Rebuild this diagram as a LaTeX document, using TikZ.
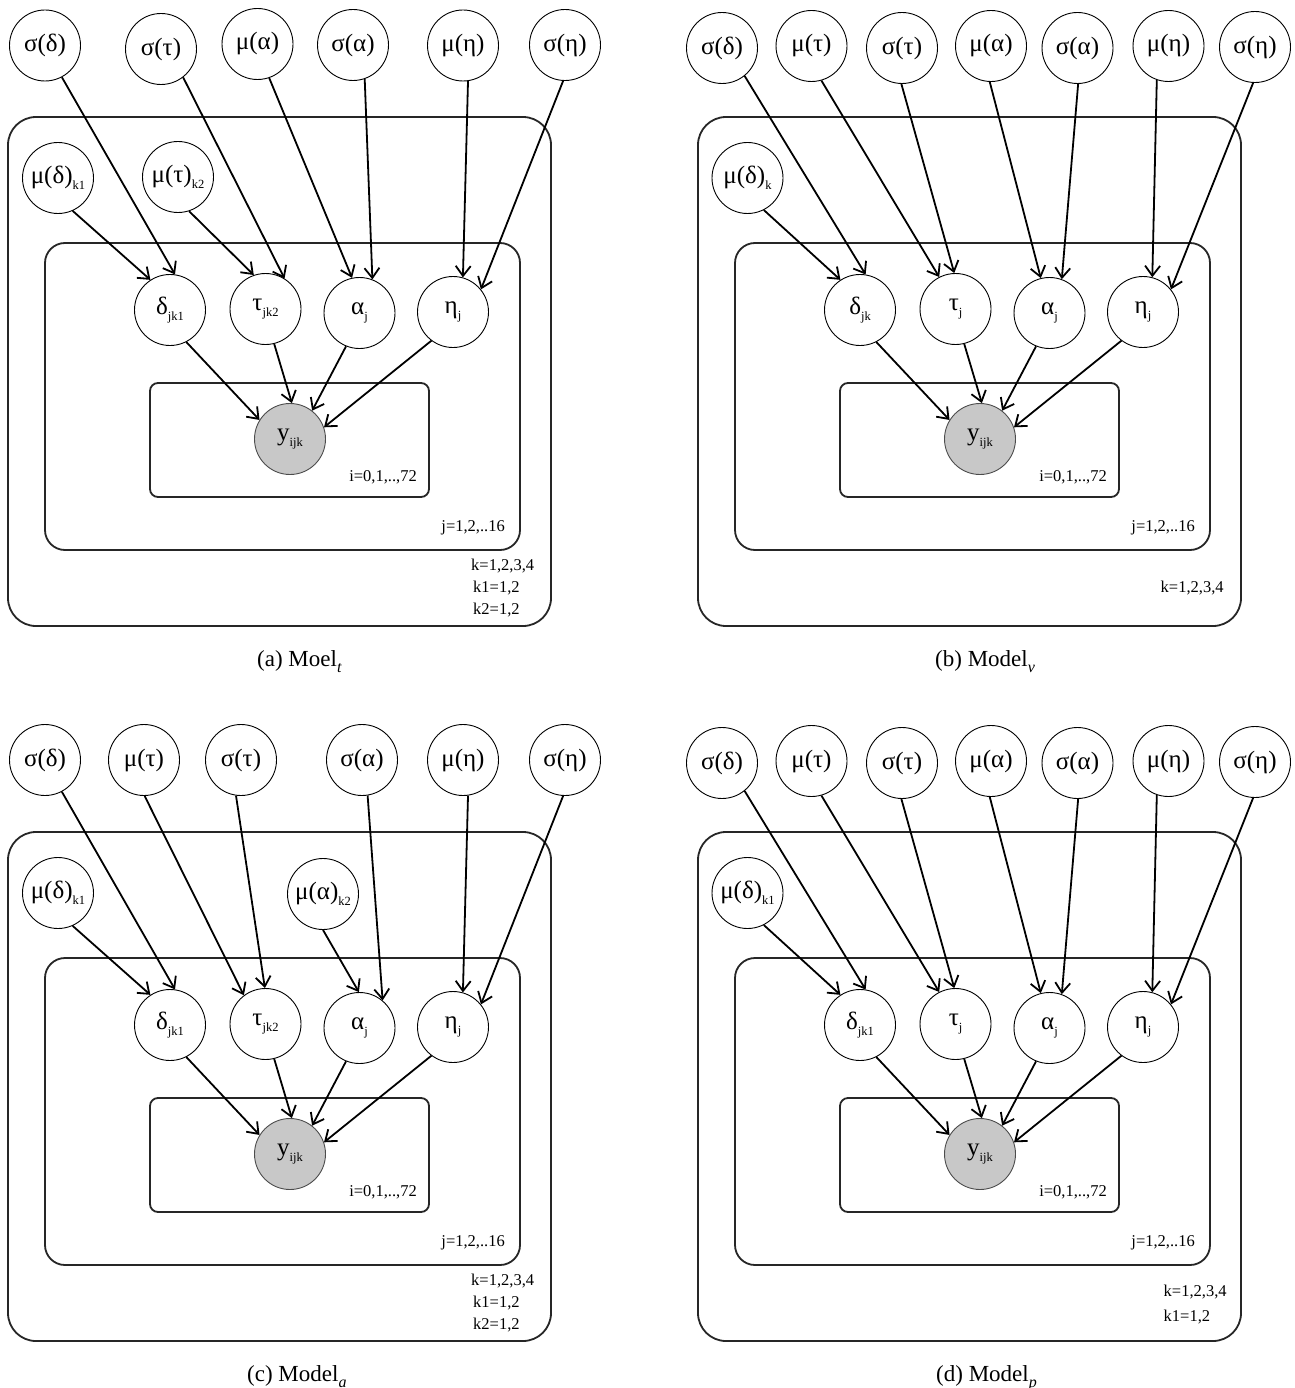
\documentclass[tikz,border=0pt]{standalone}
\usepackage{fontspec}
\setmainfont{Liberation Serif}
\usetikzlibrary{arrows.meta}
\definecolor{obsgray}{HTML}{C8C8C8}
\newcommand{\rsNodeFont}{\fontsize{25}{25}\selectfont}
\newcommand{\rsLabFont}{\fontsize{16.5}{17}\selectfont}
\newcommand{\rsCapFont}{\fontsize{23}{23}\selectfont}
\newcommand{\rsSub}[1]{\raisebox{-5.5pt}{\fontsize{12.5}{12.5}\selectfont #1}}
\newcommand{\rsCapSub}[1]{\raisebox{-6pt}{\fontsize{16}{16}\selectfont\itshape #1}}
\tikzset{
  var/.style={circle, draw, line width=0.9pt, minimum size=71pt, inner sep=0pt, font=\rsNodeFont},
  obs/.style={var, fill=obsgray, draw=black!70},
  plate/.style={draw=black!85, line width=1.8pt},
  edge/.style={line width=1.8pt, -{Straight Barb[length=10pt,width=15pt]}},
  lab/.style={font=\rsLabFont, inner sep=0pt},
  captext/.style={font=\rsCapFont, inner sep=0pt}
}
\newcommand{\rsBase}[2]{%
  \draw[plate, rounded corners=28pt] (8,117) rectangle (551,626);
  \draw[plate, rounded corners=20pt] (45,243) rectangle (520,550);
  \draw[plate, rounded corners=8pt] (150,383) rectangle (429,497);
  \node[var] (d) at (170,310) {δ\rsSub{#1}};
  \node[var] (t) at (265.5,309) {τ\rsSub{#2}};
  \node[var] (a) at (359.5,313) {α\rsSub{j}};
  \node[var] (e) at (453,312) {η\rsSub{j}};
  \node[obs] (y) at (290,439) {y\rsSub{ijk}};
  \draw[edge] (d.-63) -- (y.148);
  \draw[edge] (t.-76) -- (y.87);
  \draw[edge] (a.-112) -- (y.52);
  \draw[edge] (e.-127) -- (y.19);
  \node[lab, anchor=east] (il) at (417,477) {i=0,1,..,72};
  \node[lab, anchor=east] (jl) at (505,528) {j=1,2,..16};
}
\begin{document}
\begin{tikzpicture}[x=1pt,y=-1pt]
\fill[white] (0,0) rectangle (1294,1388);
\useasboundingbox (0,0) rectangle (1294,1388);

% ---------------- panel (a)
\begin{scope}[name prefix=a-]
  \rsBase{jk1}{jk2}
  \node[var] (sd) at (45,45.5) {σ(δ)};
  \node[var] (st) at (161,49) {σ(τ)};
  \node[var] (ma) at (257.5,44) {μ(α)};
  \node[var] (sa) at (353,45) {σ(α)};
  \node[var] (me) at (463,45.5) {μ(η)};
  \node[var] (se) at (565,45) {σ(η)};
  \node[var] (md) at (58,178) {μ(δ)\rsSub{k1}};
  \node[var] (mt) at (178,177) {μ(τ)\rsSub{k2}};
  \draw[edge] (sd.-62) -- (d.82);
  \draw[edge] (md.-66) -- (d.123);
  \draw[edge] (st.-52) -- (t.58);
  \draw[edge] (mt.-72) -- (t.109);
  \draw[edge] (ma.-71) -- (a.102);
  \draw[edge] (sa.-71) -- (a.69);
  \draw[edge] (me.-82) -- (e.74);
  \draw[edge] (se.-93) -- (e.39);
  \node[lab, anchor=west] (k) at (471,566) {k=1,2,3,4};
  \node[lab, anchor=west] (kk1) at (473,588) {k1=1,2};
  \node[lab, anchor=west] (kk2) at (473,610) {k2=1,2};
  \node[captext, anchor=base west] (cp) at (257,666) {(a) Moel\rsCapSub{t}};
\end{scope}

% ---------------- panel (b)
\begin{scope}[shift={(690,0)}, name prefix=b-]
  \rsBase{jk}{j}
  \node[var] (sd) at (32,48) {σ(δ)};
  \node[var] (mt) at (121.5,46) {μ(τ)};
  \node[var] (st) at (212,48) {σ(τ)};
  \node[var] (ma) at (301,46) {μ(α)};
  \node[var] (sa) at (387.5,48) {σ(α)};
  \node[var] (me) at (478.5,46) {μ(η)};
  \node[var] (se) at (565,47) {σ(η)};
  \node[var] (md) at (57.5,178) {μ(δ)\rsSub{k}};
  \draw[edge] (sd.-51) -- (d.81);
  \draw[edge] (md.-63) -- (d.123);
  \draw[edge] (mt.-74) -- (t.117);
  \draw[edge] (st.-91) -- (t.92);
  \draw[edge] (ma.-92) -- (a.104);
  \draw[edge] (sa.-89) -- (a.70);
  \draw[edge] (me.-109) -- (e.75);
  \draw[edge] (se.-93) -- (e.39);
  \node[lab, anchor=west] (k) at (470.5,588) {k=1,2,3,4};
  \node[captext, anchor=base west] (cp) at (245,666) {(b) Model\rsCapSub{v}};
\end{scope}

% ---------------- panel (c)
\begin{scope}[shift={(0,715)}, name prefix=c-]
  \rsBase{jk1}{jk2}
  \node[var] (sd) at (45,45) {σ(δ)};
  \node[var] (mt) at (144,45) {μ(τ)};
  \node[var] (st) at (241,45) {σ(τ)};
  \node[var] (sa) at (362,45) {σ(α)};
  \node[var] (me) at (463,45) {μ(η)};
  \node[var] (se) at (565,45) {σ(η)};
  \node[var] (md) at (58,178) {μ(δ)\rsSub{k1}};
  \node[var] (ma) at (323,179) {μ(α)\rsSub{k2}};
  \draw[edge] (sd.-62) -- (d.82);
  \draw[edge] (md.-66) -- (d.123);
  \draw[edge] (mt.-89) -- (t.127);
  \draw[edge] (st.-98) -- (t.91);
  \draw[edge] (ma.-90) -- (a.91);
  \draw[edge] (sa.-81) -- (a.50);
  \draw[edge] (me.-82) -- (e.74);
  \draw[edge] (se.-93) -- (e.39);
  \node[lab, anchor=west] (k) at (471,566) {k=1,2,3,4};
  \node[lab, anchor=west] (kk1) at (473,588) {k1=1,2};
  \node[lab, anchor=west] (kk2) at (473,610) {k2=1,2};
  \node[captext, anchor=base west] (cp) at (247,666) {(c) Model\rsCapSub{a}};
\end{scope}

% ---------------- panel (d)
\begin{scope}[shift={(690,715)}, name prefix=d-]
  \rsBase{jk1}{j}
  \node[var] (sd) at (32,48) {σ(δ)};
  \node[var] (mt) at (121.5,46) {μ(τ)};
  \node[var] (st) at (212,48) {σ(τ)};
  \node[var] (ma) at (301,46) {μ(α)};
  \node[var] (sa) at (387.5,48) {σ(α)};
  \node[var] (me) at (478.5,46) {μ(η)};
  \node[var] (se) at (565,47) {σ(η)};
  \node[var] (md) at (57.5,178) {μ(δ)\rsSub{k1}};
  \draw[edge] (sd.-51) -- (d.81);
  \draw[edge] (md.-63) -- (d.123);
  \draw[edge] (mt.-74) -- (t.117);
  \draw[edge] (st.-91) -- (t.92);
  \draw[edge] (ma.-92) -- (a.104);
  \draw[edge] (sa.-89) -- (a.70);
  \draw[edge] (me.-109) -- (e.75);
  \draw[edge] (se.-93) -- (e.39);
  \node[lab, anchor=west] (k) at (473.5,577) {k=1,2,3,4};
  \node[lab, anchor=west] (kk1) at (473.5,602) {k1=1,2};
  \node[captext, anchor=base west] (cp) at (246,666) {(d) Model\rsCapSub{p}};
\end{scope}
\end{tikzpicture}
\end{document}
